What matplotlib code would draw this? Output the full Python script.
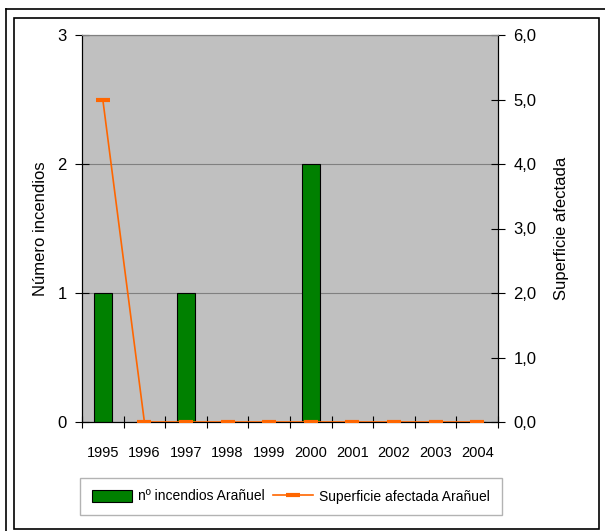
import matplotlib.pyplot as plt
from matplotlib.patches import Rectangle
from matplotlib.lines import Line2D
import numpy as np

plt.rcParams['font.family'] = ['Liberation Sans', 'DejaVu Sans']

# === Daten ===
anios = ['1995', '1996', '1997', '1998', '1999', '2000', '2001', '2002', '2003', '2004']
n_incendios = [1, 0, 1, 0, 0, 2, 0, 0, 0, 0]
superficie = [5.0, 0, 0, 0, 0, 0, 0, 0, 0, 0]

W, H = 605, 531
fig = plt.figure(figsize=(W / 100, H / 100), dpi=100)

# Rahmen aussen (nur oben/links sichtbar) und innen
fig.add_artist(Line2D([6 / W, 6 / W], [0, 1 - 9 / H], color='black', lw=1.2, transform=fig.transFigure))
fig.add_artist(Line2D([6 / W, 1], [1 - 9 / H, 1 - 9 / H], color='black', lw=1.2, transform=fig.transFigure))
fig.add_artist(Rectangle((14 / W, 1 - 529 / H), 585 / W, 511 / H, fill=False,
                         edgecolor='black', lw=1.2, transform=fig.transFigure))

ax = fig.add_axes([82 / W, 1 - 422 / H, 416 / W, 387 / H])
ax.set_facecolor('#C0C0C0')
x = np.arange(len(anios))

ax.bar(x, n_incendios, width=0.42, color='#008000', edgecolor='black', linewidth=0.8, zorder=3)
ax.set_xlim(-0.5, len(anios) - 0.5)
ax.set_ylim(0, 3)
ax.set_yticks([0, 1, 2, 3])
ax.yaxis.grid(True, color='#808080', lw=0.8, zorder=0)
ax.set_xticks(np.arange(len(anios) + 1) - 0.5)
ax.set_xticklabels([])
ax.set_xticks(x, minor=True)
ax.set_xticklabels(anios, minor=True)
ax.tick_params(axis='x', which='minor', length=0, pad=17, labelsize=10.5)
ax.tick_params(axis='x', which='major', direction='inout', length=9, width=0.8)
ax.tick_params(axis='y', direction='inout', length=10, width=0.8, labelsize=12, pad=6)
ax.set_ylabel('Número incendios', fontsize=12, labelpad=7)
ax.spines['top'].set_color('#808080')
for s in ['left', 'bottom', 'right']:
    ax.spines[s].set_color('black')

ax2 = ax.twinx()
ax2.plot(x, superficie, color='#FF6600', lw=1.2, marker='_', markersize=10,
         markeredgewidth=3, zorder=4)
ax2.set_ylim(0, 6)
ax2.set_yticks(np.arange(0, 7, 1))
ax2.set_yticklabels([f'{v:.1f}'.replace('.', ',') for v in np.arange(0, 7, 1)])
ax2.tick_params(axis='y', direction='inout', length=10, width=0.8, labelsize=12, pad=6)
ax2.set_ylabel('Superficie afectada', fontsize=12, labelpad=13)
ax2.spines['top'].set_color('#808080')

handles = [Rectangle((0, 0), 1, 1, facecolor='#008000', edgecolor='black', lw=0.8),
           Line2D([], [], color='#FF6600', lw=1.2, marker='_', markersize=10, markeredgewidth=3)]
labels = ['nº incendios Arañuel', 'Superficie afectada Arañuel']
leg = fig.legend(handles, labels, loc='center', ncol=2, fontsize=10,
                 bbox_to_anchor=(82 / W, 1 - 514 / H, 418 / W, 35 / H),
                 frameon=True, fancybox=False, edgecolor='#A0A0A0',
                 handlelength=2.9, handleheight=1.0, columnspacing=0.6, handletextpad=0.4,
                 borderpad=0.85)
leg.get_frame().set_linewidth(1.0)

plt.savefig('out.png', dpi=100)
